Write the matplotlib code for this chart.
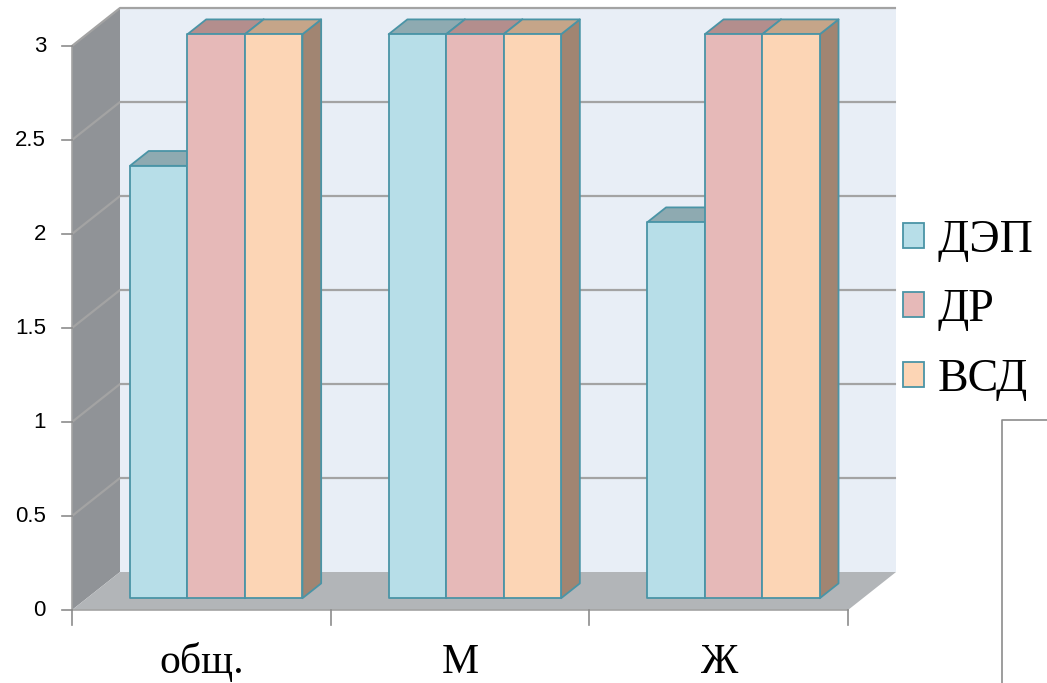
import matplotlib.pyplot as plt
from matplotlib.patches import Polygon, Patch
from matplotlib.lines import Line2D

categories = ['общ.', 'М', 'Ж']
series = ['ДЭП', 'ДР', 'ВСД']
dep = [2.3, 3, 2]
dr = [3, 3, 3]
vsd = [3, 3, 3]
yticks = [0, 0.5, 1, 1.5, 2, 2.5, 3]

values = [dep, dr, vsd]
front_col = ['#b7dee8', '#e6b9b8', '#fcd5b5']
top_col = ['#8eaab1', '#b38e8d', '#c5a589']
side_col = ['#7f9da5', '#a08180', '#a18572']
edge_col = '#4a94a6'

# depth of the 3d box expressed in data units (category, value)
DX, DY = 0.1856, 0.2021
F, B = 0.31, 0.70          # front / back of the bars as fraction of depth
w = 1 / 4.5                # bar width with 150% gap
ncat = len(categories)
ymax = yticks[-1]

fig = plt.figure(figsize=(10.47, 6.83), dpi=100)
ax = fig.add_axes([0, 0, 1, 1])
ax.set_xlim(-0.2783, 3.7692)
ax.set_ylim(-0.3883, 3.2447)
ax.axis('off')

# walls and floor
ax.add_patch(Polygon([(DX, DY), (ncat + DX, DY), (ncat + DX, ymax + DY), (DX, ymax + DY)],
                     closed=True, facecolor='#e8eef6', edgecolor='none', zorder=1))
ax.add_patch(Polygon([(0, 0), (DX, DY), (DX, ymax + DY), (0, ymax)],
                     closed=True, facecolor='#909397', edgecolor='none', zorder=1))
ax.add_patch(Polygon([(0, 0), (ncat, 0), (ncat + DX, DY), (DX, DY)],
                     closed=True, facecolor='#b2b5b8', edgecolor='none', zorder=1))

# gridlines on back and side walls
for v in yticks[1:]:
    ax.plot([0, DX, ncat + DX], [v, v + DY, v + DY], color='#a3a3a3', lw=1.6, zorder=2,
            solid_capstyle='butt')

# axes lines and ticks
ax.plot([0, 0], [0, ymax], color='#a3a3a3', lw=1.2, zorder=2)
ax.plot([0, ncat], [0, 0], color='#a3a3a3', lw=1.2, zorder=2)
for v in yticks:
    ax.plot([-0.0387, 0], [v, v], color='#8c8c8c', lw=1.2, zorder=2)
    ax.text(-0.1005, v, f'{v:g}', ha='right', va='center', fontsize=16,
            family='Liberation Sans', color='#000000')
for i in range(ncat + 1):
    ax.plot([i, i], [0, -0.08], color='#8c8c8c', lw=1.2, zorder=2)

# bars
fx, fy = F * DX, F * DY
bx, by = B * DX, B * DY
for i in range(ncat):
    for j in range(len(series)):
        h = values[j][i]
        x0 = i + 0.5 - 1.5 * w + j * w
        x1 = x0 + w
        kw = dict(closed=True, edgecolor=edge_col, linewidth=1.3, joinstyle='round', zorder=3)
        ax.add_patch(Polygon([(x1 + fx, fy), (x1 + bx, by), (x1 + bx, h + by), (x1 + fx, h + fy)],
                             facecolor=side_col[j], **kw))
        ax.add_patch(Polygon([(x0 + fx, h + fy), (x1 + fx, h + fy), (x1 + bx, h + by), (x0 + bx, h + by)],
                             facecolor=top_col[j], **kw))
        ax.add_patch(Polygon([(x0 + fx, fy), (x1 + fx, fy), (x1 + fx, h + fy), (x0 + fx, h + fy)],
                             facecolor=front_col[j], **kw))

for i, cat in enumerate(categories):
    ax.text(i + 0.5, -0.335, cat, ha='center', va='baseline', fontsize=30,
            family='Liberation Serif', color='black')

handles = [Patch(facecolor=front_col[j], edgecolor=edge_col, linewidth=1.3, label=s)
           for j, s in enumerate(series)]
ax.legend(handles=handles, loc='upper left', bbox_to_anchor=(903 / 1047, 1 - 219 / 683),
          frameon=False, prop={'family': 'Liberation Serif', 'size': 33},
          handlelength=0.46, handleheight=0.46, handletextpad=0.3, labelspacing=0.59,
          borderpad=0, borderaxespad=0)

# stray frame line in the lower right corner
fig.add_artist(Line2D([1002 / 1047, 1002 / 1047, 1], [0, 1 - 420 / 683, 1 - 420 / 683],
                      transform=fig.transFigure, color='#8c8c8c', lw=1.2))

fig.savefig('out.png', dpi=100)
